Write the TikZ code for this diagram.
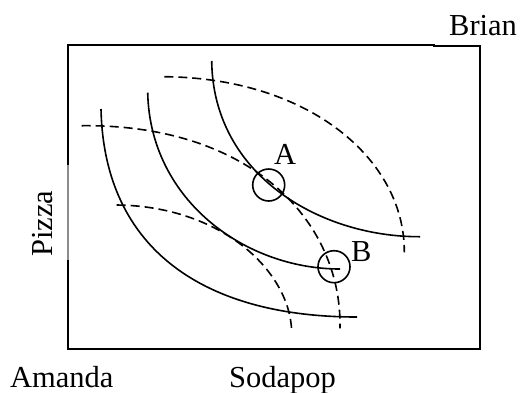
\documentclass[tikz,border=0pt]{standalone}
\usepackage{fontspec}
\setmainfont{Liberation Serif}
\begin{document}
\begin{tikzpicture}[x=1pt,y=-1pt,
  lbl/.style={inner sep=0pt,anchor=base west,font=\fontsize{30.5}{36}\selectfont},
  frame/.style={line width=2pt,line cap=rect},
  faint/.style={line width=1.2pt,draw=black!45},
  icurve/.style={line width=1.6pt},
  bcurve/.style={line width=1.6pt,dash pattern=on 9pt off 5pt},
  ring/.style={circle,draw,line width=1.6pt,minimum size=32pt,inner sep=0pt}]
\useasboundingbox (0,0) rectangle (529,392);
% frame
\draw[frame] (67.5,165) -- (67.5,44.5) -- (434,44.5);
\draw[frame] (434,46) -- (479.5,46) -- (479.5,349) -- (68,349) -- (68,260);
\draw[faint] (68,260) -- (68,165);
% labels
\node[lbl] (brian) at (449,35) {Brian};
\node[lbl] (amanda) at (10,387) {Amanda};
\node[lbl] (soda) at (229,387) {Sodapop};
\node[lbl,rotate=90] (pizza) at (52,257) {Pizza};
\node[lbl] (labA) at (274,164) {A};
\node[lbl] (labB) at (351,261.7) {B};
% Amanda's indifference curves
\draw[icurve] (101,109) .. controls (104,250) and (205,317) .. (357,317);
\draw[icurve] (147.7,92.7) .. controls (150,200) and (245,269) .. (340,269);
\draw[icurve] (211.7,61) .. controls (213,175) and (320,237) .. (420,236.7);
% Brian's indifference curves
\draw[bcurve] (164.3,76.7) .. controls (310,78) and (405,160) .. (404.3,252.3);
\draw[bcurve] (81.7,125.7) .. controls (250,124) and (342,220) .. (340,328.3);
\draw[bcurve] (116.7,205) .. controls (220,206) and (290,270) .. (291.7,331.7);
% points
\node[ring] (cA) at (268.7,185) {};
\node[ring] (cB) at (334,266.7) {};
\end{tikzpicture}
\end{document}
